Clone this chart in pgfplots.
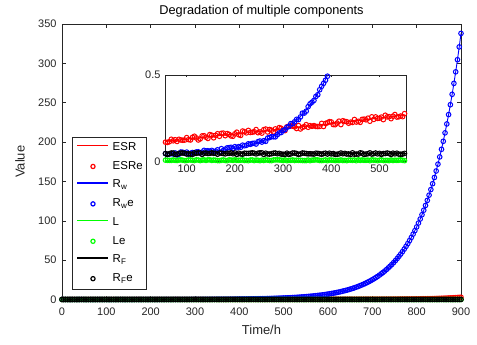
\documentclass[border=0pt]{standalone}
\usepackage{pgfplots}
\pgfplotsset{compat=1.18}
\usepackage{pgfplotstable}
\usepackage{fontspec}
\setmainfont{Liberation Sans}
\definecolor{axgray}{gray}{0.15}
\definecolor{mred}{rgb}{1,0,0}
\definecolor{mblue}{rgb}{0,0,1}
\definecolor{mgreen}{rgb}{0,1,0}
\pgfplotstableread{
t esr esre rw rwe le rfe
0 0.1000 0.0910 0.0428 0.0478 0.0085 0.046
4 0.1012 0.1002 0.0430 0.0360 0.0075 0.043
8 0.1024 0.0934 0.0431 0.0501 0.0085 0.046
12 0.1036 0.1046 0.0433 0.0383 0.0100 0.044
16 0.1048 0.1168 0.0435 0.0505 0.0105 0.043
20 0.1060 0.0990 0.0436 0.0366 0.0095 0.045
24 0.1072 0.1112 0.0438 0.0508 0.0105 0.047
28 0.1084 0.1094 0.0440 0.0390 0.0075 0.048
32 0.1096 0.1056 0.0443 0.0513 0.0070 0.044
36 0.1108 0.1118 0.0445 0.0435 0.0075 0.045
40 0.1120 0.1210 0.0447 0.0457 0.0100 0.049
44 0.1132 0.1252 0.0450 0.0540 0.0080 0.045
48 0.1144 0.1214 0.0452 0.0362 0.0090 0.042
52 0.1156 0.1276 0.0455 0.0445 0.0070 0.051
56 0.1168 0.1128 0.0458 0.0468 0.0090 0.047
60 0.1180 0.1110 0.0461 0.0411 0.0080 0.042
64 0.1192 0.1152 0.0464 0.0434 0.0075 0.046
68 0.1204 0.1294 0.0468 0.0478 0.0075 0.050
72 0.1216 0.1206 0.0472 0.0442 0.0100 0.050
76 0.1228 0.1268 0.0475 0.0505 0.0075 0.042
80 0.1240 0.1170 0.0479 0.0389 0.0070 0.043
84 0.1252 0.1292 0.0484 0.0434 0.0095 0.048
88 0.1264 0.1254 0.0488 0.0558 0.0105 0.050
92 0.1276 0.1236 0.0493 0.0543 0.0085 0.050
96 0.1288 0.1248 0.0498 0.0488 0.0060 0.049
100 0.1300 0.1390 0.0503 0.0553 0.0070 0.044
104 0.1312 0.1272 0.0508 0.0438 0.0100 0.046
108 0.1324 0.1254 0.0514 0.0484 0.0100 0.044
112 0.1336 0.1406 0.0520 0.0530 0.0080 0.042
116 0.1348 0.1468 0.0527 0.0477 0.0065 0.051
120 0.1360 0.1370 0.0533 0.0563 0.0105 0.048
124 0.1372 0.1252 0.0541 0.0571 0.0095 0.051
128 0.1384 0.1314 0.0548 0.0498 0.0065 0.050
132 0.1396 0.1486 0.0556 0.0546 0.0090 0.042
136 0.1408 0.1498 0.0564 0.0654 0.0105 0.049
140 0.1420 0.1410 0.0573 0.0623 0.0075 0.050
144 0.1432 0.1342 0.0582 0.0632 0.0105 0.047
148 0.1444 0.1564 0.0592 0.0602 0.0105 0.048
152 0.1456 0.1526 0.0602 0.0652 0.0075 0.051
156 0.1468 0.1378 0.0613 0.0563 0.0095 0.048
160 0.1480 0.1520 0.0624 0.0614 0.0085 0.049
164 0.1492 0.1612 0.0636 0.0686 0.0065 0.043
168 0.1504 0.1464 0.0649 0.0559 0.0060 0.050
172 0.1516 0.1636 0.0662 0.0752 0.0085 0.049
176 0.1528 0.1648 0.0676 0.0646 0.0100 0.047
180 0.1540 0.1500 0.0691 0.0721 0.0070 0.045
184 0.1552 0.1622 0.0707 0.0797 0.0060 0.049
188 0.1564 0.1574 0.0723 0.0813 0.0105 0.048
192 0.1576 0.1486 0.0740 0.0830 0.0095 0.051
196 0.1588 0.1468 0.0758 0.0768 0.0080 0.046
200 0.1600 0.1610 0.0777 0.0867 0.0105 0.050
204 0.1612 0.1702 0.0798 0.0808 0.0080 0.042
208 0.1624 0.1554 0.0819 0.0869 0.0080 0.049
212 0.1636 0.1516 0.0841 0.0831 0.0085 0.045
216 0.1648 0.1768 0.0865 0.0955 0.0105 0.043
220 0.1660 0.1730 0.0890 0.0920 0.0070 0.049
224 0.1672 0.1662 0.0916 0.0946 0.0075 0.048
228 0.1684 0.1804 0.0943 0.1033 0.0060 0.048
232 0.1696 0.1686 0.0972 0.1002 0.0095 0.049
236 0.1708 0.1698 0.1003 0.1053 0.0100 0.051
240 0.1720 0.1730 0.1035 0.1065 0.0065 0.049
244 0.1732 0.1852 0.1069 0.1019 0.0090 0.045
248 0.1744 0.1674 0.1104 0.1154 0.0080 0.049
252 0.1756 0.1716 0.1142 0.1192 0.0060 0.051
256 0.1768 0.1648 0.1182 0.1132 0.0090 0.051
260 0.1780 0.1850 0.1223 0.1213 0.0070 0.042
264 0.1792 0.1882 0.1267 0.1177 0.0100 0.049
268 0.1804 0.1714 0.1314 0.1364 0.0090 0.045
272 0.1816 0.1856 0.1362 0.1392 0.0070 0.044
276 0.1828 0.1818 0.1414 0.1444 0.0060 0.046
280 0.1840 0.1720 0.1468 0.1438 0.0100 0.049
284 0.1852 0.1892 0.1525 0.1435 0.0105 0.050
288 0.1864 0.1794 0.1585 0.1555 0.0105 0.046
292 0.1876 0.1966 0.1648 0.1658 0.0100 0.048
296 0.1888 0.1928 0.1715 0.1685 0.0090 0.044
300 0.1900 0.1830 0.1785 0.1795 0.0070 0.043
304 0.1912 0.1792 0.1859 0.1849 0.0100 0.042
308 0.1924 0.2014 0.1937 0.1987 0.0060 0.049
312 0.1936 0.2056 0.2019 0.2029 0.0075 0.042
316 0.1948 0.2068 0.2105 0.2195 0.0080 0.045
320 0.1960 0.2050 0.2196 0.2186 0.0100 0.050
324 0.1972 0.2012 0.2292 0.2302 0.0070 0.050
328 0.1984 0.1914 0.2393 0.2443 0.0085 0.047
332 0.1996 0.2086 0.2500 0.2430 0.0075 0.042
336 0.2008 0.1888 0.2612 0.2582 0.0080 0.045
340 0.2020 0.1980 0.2730 0.2800 0.0070 0.050
344 0.2032 0.2022 0.2854 0.2804 0.0065 0.049
348 0.2044 0.2134 0.2985 0.2915 0.0065 0.047
352 0.2056 0.1986 0.3123 0.3173 0.0095 0.045
356 0.2068 0.2078 0.3268 0.3338 0.0060 0.046
360 0.2080 0.2040 0.3421 0.3431 0.0090 0.045
364 0.2092 0.2082 0.3582 0.3532 0.0095 0.044
368 0.2104 0.2034 0.3752 0.3762 0.0105 0.049
372 0.2116 0.2026 0.3931 0.3861 0.0100 0.048
376 0.2128 0.2038 0.4120 0.4150 0.0070 0.046
380 0.2140 0.2210 0.4318 0.4348 0.0065 0.043
384 0.2152 0.2032 0.4528 0.4518 0.0080 0.047
388 0.2164 0.2204 0.4748 0.4698 0.0100 0.049
392 0.2176 0.2246 0.4980 0.4930 0.0060 0.044
396 0.2188 0.2308 0.5225 0.5215 0.0100 0.049
400 0.2200 0.2290 0.5482 0.5432 0.0090 0.045
404 0.2212 0.2142 0.5753 0.5803 0.0085 0.047
408 0.2224 0.2134 0.6039 0.6029 0.0065 0.042
412 0.2236 0.2226 0.6340 0.6370 0.0075 0.043
416 0.2248 0.2338 0.6657 0.6687 0.0070 0.045
420 0.2260 0.2140 0.6991 0.6961 0.0100 0.050
424 0.2272 0.2362 0.7343 0.7433 0.0070 0.046
428 0.2284 0.2324 0.7713 0.7643 0.0075 0.048
432 0.2296 0.2306 0.8104 0.8194 0.0060 0.044
436 0.2308 0.2218 0.8515 0.8485 0.0090 0.045
440 0.2320 0.2280 0.8948 0.8898 0.0090 0.042
444 0.2332 0.2262 0.9404 0.9314 0.0080 0.051
448 0.2344 0.2434 0.9885 0.9795 0.0095 0.043
452 0.2356 0.2286 1.0391 1.0361 0.0060 0.044
456 0.2368 0.2328 1.0924 1.0834 0.0105 0.044
460 0.2389 0.2269 1.1486 1.1496 0.0075 0.051
464 0.2402 0.2442 1.208 1.208 0.0100 0.049
468 0.2415 0.2455 1.270 1.270 0.0080 0.042
472 0.2427 0.2417 1.336 1.336 0.0080 0.044
476 0.2440 0.2510 1.405 1.405 0.0090 0.046
480 0.2453 0.2333 1.478 1.478 0.0060 0.051
484 0.2466 0.2586 1.555 1.555 0.0105 0.044
488 0.2479 0.2439 1.636 1.636 0.0085 0.046
492 0.2492 0.2582 1.721 1.721 0.0085 0.050
496 0.2505 0.2495 1.811 1.811 0.0060 0.045
500 0.2519 0.2509 1.905 1.905 0.0085 0.048
504 0.2532 0.2572 2.004 2.004 0.0100 0.042
508 0.2546 0.2426 2.109 2.109 0.0070 0.047
512 0.2559 0.2679 2.219 2.219 0.0070 0.047
516 0.2573 0.2583 2.336 2.336 0.0075 0.050
520 0.2587 0.2597 2.458 2.458 0.0065 0.047
524 0.2601 0.2481 2.587 2.587 0.0095 0.042
528 0.2615 0.2625 2.723 2.723 0.0070 0.049
532 0.2629 0.2719 2.866 2.866 0.0085 0.045
536 0.2644 0.2574 3.017 3.017 0.0075 0.049
540 0.2658 0.2588 3.176 3.176 0.0085 0.044
544 0.2673 0.2633 3.344 3.344 0.0105 0.043
548 0.2688 0.2598 3.521 3.521 0.0080 0.044
552 0.2704 0.2774 3.706 3.706 0.0060 0.048
556 0.2719 0.2649 3.902 3.902 0.0100 0.046
560 0.2735 0.2745 4.108 4.108 0.0065 0.046
564 0.2751 0.2751 4.325 4.325 0.008 0.046
568 0.2768 0.2768 4.554 4.554 0.008 0.046
572 0.2784 0.2784 4.795 4.795 0.008 0.046
576 0.2801 0.2801 5.049 5.049 0.008 0.046
580 0.2819 0.2819 5.316 5.316 0.008 0.046
584 0.2837 0.2837 5.597 5.597 0.008 0.046
588 0.2855 0.2855 5.893 5.893 0.008 0.046
592 0.2874 0.2874 6.206 6.206 0.008 0.046
596 0.2893 0.2893 6.535 6.535 0.008 0.046
600 0.2913 0.2913 6.882 6.882 0.008 0.046
604 0.2933 0.2933 7.247 7.247 0.008 0.046
608 0.2954 0.2954 7.631 7.631 0.008 0.046
612 0.2976 0.2976 8.037 8.037 0.008 0.046
616 0.2999 0.2999 8.463 8.463 0.008 0.046
620 0.3022 0.3022 8.913 8.913 0.008 0.046
624 0.3046 0.3046 9.387 9.387 0.008 0.046
628 0.3071 0.3071 9.886 9.886 0.008 0.046
632 0.3097 0.3097 10.411 10.411 0.008 0.046
636 0.3124 0.3124 10.965 10.965 0.008 0.046
640 0.3152 0.3152 11.548 11.548 0.008 0.046
644 0.3181 0.3181 12.162 12.162 0.008 0.046
648 0.3212 0.3212 12.809 12.809 0.008 0.046
652 0.3244 0.3244 13.491 13.491 0.008 0.046
656 0.3277 0.3277 14.209 14.209 0.008 0.046
660 0.3313 0.3313 14.965 14.965 0.008 0.046
664 0.3349 0.3349 15.76 15.76 0.008 0.046
668 0.3388 0.3388 16.60 16.60 0.008 0.046
672 0.3429 0.3429 17.49 17.49 0.008 0.046
676 0.3472 0.3472 18.42 18.42 0.008 0.046
680 0.3517 0.3517 19.40 19.40 0.008 0.046
684 0.3564 0.3564 20.43 20.43 0.008 0.046
688 0.3614 0.3614 21.52 21.52 0.008 0.046
692 0.3668 0.3668 22.67 22.67 0.008 0.046
696 0.3724 0.3724 23.87 23.87 0.008 0.046
700 0.3783 0.3783 25.15 25.15 0.008 0.046
704 0.3846 0.3846 26.48 26.48 0.008 0.046
708 0.3913 0.3913 27.90 27.90 0.008 0.046
712 0.3984 0.3984 29.38 29.38 0.008 0.046
716 0.4059 0.4059 30.95 30.95 0.008 0.046
720 0.4139 0.4139 32.60 32.60 0.008 0.046
724 0.4224 0.4224 34.34 34.34 0.008 0.046
728 0.4315 0.4315 36.17 36.17 0.008 0.046
732 0.4411 0.4411 38.10 38.10 0.008 0.046
736 0.4514 0.4514 40.13 40.13 0.008 0.046
740 0.4623 0.4623 42.27 42.27 0.008 0.046
744 0.4740 0.4740 44.52 44.52 0.008 0.046
748 0.4865 0.4865 46.90 46.90 0.008 0.046
752 0.4998 0.4998 49.40 49.40 0.008 0.046
756 0.5140 0.5140 52.03 52.03 0.008 0.046
760 0.5292 0.5292 54.81 54.81 0.008 0.046
764 0.5454 0.5454 57.73 57.73 0.008 0.046
768 0.5627 0.5627 60.81 60.81 0.008 0.046
772 0.5813 0.5813 64.05 64.05 0.008 0.046
776 0.6011 0.6011 67.47 67.47 0.008 0.046
780 0.6223 0.6223 71.07 71.07 0.008 0.046
784 0.6450 0.6450 74.86 74.86 0.008 0.046
788 0.6694 0.6694 78.85 78.85 0.008 0.046
792 0.6954 0.6954 83.06 83.06 0.008 0.046
796 0.7233 0.7233 87.49 87.49 0.008 0.046
800 0.7532 0.7532 92.16 92.16 0.008 0.046
804 0.7853 0.7853 97.07 97.07 0.008 0.046
808 0.8197 0.8197 102.25 102.25 0.008 0.046
812 0.8565 0.8565 107.71 107.71 0.008 0.046
816 0.8960 0.8960 113.45 113.45 0.008 0.046
820 0.9383 0.9383 119.51 119.51 0.008 0.046
824 0.9837 0.9837 125.89 125.89 0.008 0.046
828 1.0325 1.0325 132.60 132.60 0.008 0.046
832 1.0847 1.0847 139.68 139.68 0.008 0.046
836 1.1408 1.1408 147.13 147.13 0.008 0.046
840 1.2010 1.2010 154.98 154.98 0.008 0.046
844 1.2656 1.2656 163.25 163.25 0.008 0.046
848 1.3349 1.3349 171.96 171.96 0.008 0.046
852 1.4093 1.4093 181.14 181.14 0.008 0.046
856 1.4891 1.4891 190.81 190.81 0.008 0.046
860 1.5749 1.5749 200.99 200.99 0.008 0.046
864 1.6669 1.6669 211.71 211.71 0.008 0.046
868 1.7658 1.7658 223.01 223.01 0.008 0.046
872 1.8719 1.8719 234.91 234.91 0.008 0.046
876 1.9858 1.9858 247.45 247.45 0.008 0.046
880 2.1082 2.1082 260.66 260.66 0.008 0.046
884 2.2396 2.2396 274.57 274.57 0.008 0.046
888 2.3807 2.3807 289.22 289.22 0.008 0.046
892 2.5323 2.5323 304.65 304.65 0.008 0.046
896 2.6951 2.6951 320.91 320.91 0.008 0.046
900 2.8700 2.8700 338.04 338.04 0.008 0.046
}\datatable

\pgfplotsset{
  mlstyle/.style={
    scale only axis,
    tick align=inside,
    axis line style={axgray, line width=0.5bp},
    tick style={axgray, line width=0.5bp},
    ticklabel style={font=\fontsize{11}{13}\selectfont, text=axgray},
    /pgf/number format/assume math mode=true,
    /pgf/number format/1000 sep={},
  },
  lineplot/.style={no markers, line width=0.9bp},
  markplot/.style={only marks, mark=o, mark size=2.3bp, mark options={line width=1bp}},
  legline/.style={legend image code/.code={\path (0bp,0bp) (31bp,0bp);}},
  legcirc/.style={legend image code/.code={\path (0bp,0bp) (31bp,0bp); \draw[draw=#1, line width=1.2bp] (15.5bp,0bp) circle[radius=2.1bp];}},
}

\begin{document}
\begin{tikzpicture}
\path[use as bounding box] (-62bp,-45.5bp) rectangle (415bp,299.5bp);
\begin{axis}[
  mlstyle,
  at={(0bp,0bp)}, anchor=south west,
  width=399bp, height=275.5bp,
  xmin=0, xmax=900, ymin=0, ymax=350,
  xtick={0,100,...,900}, ytick={0,50,...,350},
  major tick length=4bp,
  xticklabel style={yshift=-5bp},
  yticklabel style={xshift=-2bp},
  clip=false,
  title={Degradation of multiple components},
  every axis title/.style={at={(axis description cs:0.5,1)}, anchor=center, yshift=13bp, font=\fontsize{12.8}{15}\selectfont, text=black},
  xlabel={Time/h},
  ylabel={Value},
  every axis x label/.style={at={(axis description cs:0.5,0)}, anchor=center, yshift=-30.5bp, font=\fontsize{13}{15}\selectfont, text=axgray},
  every axis y label/.style={at={([xshift=-42bp]axis description cs:0,0.5)}, anchor=center, rotate=90, font=\fontsize{13}{15}\selectfont, text=axgray},
  legend cell align=left,
  legend style={at={(axis description cs:0.02506,0.5888)}, anchor=north west,
    draw=axgray, line width=0.5bp, fill=white,
    font=\fontsize{11.5}{13}\selectfont,
    inner xsep=5bp, inner ysep=4.5bp, row sep=7.2bp, column sep=4bp,
    nodes={inner sep=0pt, text height=8.5bp, text depth=3bp, text width=29bp}},
]
\addlegendimage{legline}
\addlegendentry{ESR}
\addlegendimage{legcirc=mred}
\addlegendentry{ESRe}
\addlegendimage{legline}
\addlegendentry{R\textsubscript{w}}
\addlegendimage{legcirc=mblue}
\addlegendentry{R\textsubscript{w}e}
\addlegendimage{legline}
\addlegendentry{L}
\addlegendimage{legcirc=mgreen}
\addlegendentry{Le}
\addlegendimage{legline}
\addlegendentry{R\textsubscript{F}}
\addlegendimage{legcirc=black}
\addlegendentry{R\textsubscript{F}e}
\addplot[lineplot, mred, forget plot] table[x=t, y=esr] {\datatable};
\addplot[markplot, mred, forget plot] table[x=t, y=esre] {\datatable};
\addplot[lineplot, mblue, forget plot] table[x=t, y=rw] {\datatable};
\addplot[markplot, mblue, forget plot] table[x=t, y=rwe] {\datatable};
\addplot[lineplot, mgreen, forget plot] coordinates {(0,0.008) (900,0.008)};
\addplot[markplot, mgreen, forget plot] table[x=t, y=le] {\datatable};
\addplot[lineplot, black, forget plot] coordinates {(0,0.046) (900,0.046)};
\addplot[markplot, black, forget plot] table[x=t, y=rfe] {\datatable};
\end{axis}
% legend line samples
\draw[black, line width=1.3bp] (15bp,41.5bp) -- (46bp,41.5bp);
\draw[mblue, line width=1.3bp] (15bp,116.5bp) -- (46bp,116.5bp);
\draw[mgreen, line width=1.3bp] (15bp,79.0bp) -- (46bp,79.0bp);

\begin{axis}[
  mlstyle,
  at={(103bp,137.8bp)}, anchor=south west,
  width=241bp, height=86.7bp,
  xmin=55, xmax=555, ymin=0, ymax=0.5,
  xtick={100,200,...,500}, ytick={0,0.5},
  major tick length=2.5bp,
  yticklabel style={xshift=-1bp},
  axis background/.style={fill=white},
  clip=false,
  restrict x to domain=55:555,
  restrict y to domain=-1:0.5,
]
\addplot[lineplot, mred] table[x=t, y=esr] {\datatable};
\addplot[markplot, mred] table[x=t, y=esre] {\datatable};
\addplot[lineplot, mblue] table[x=t, y=rw] {\datatable};
\addplot[markplot, mblue] table[x=t, y=rwe] {\datatable};
\addplot[lineplot, mgreen] coordinates {(55,0.008) (555,0.008)};
\addplot[markplot, mgreen] table[x=t, y=le] {\datatable};
\addplot[lineplot, black] coordinates {(55,0.046) (555,0.046)};
\addplot[markplot, black] table[x=t, y=rfe] {\datatable};
\end{axis}
\draw[mred, line width=1.4bp] (15bp,154.0bp) -- (46bp,154.0bp);
\end{tikzpicture}
\end{document}
